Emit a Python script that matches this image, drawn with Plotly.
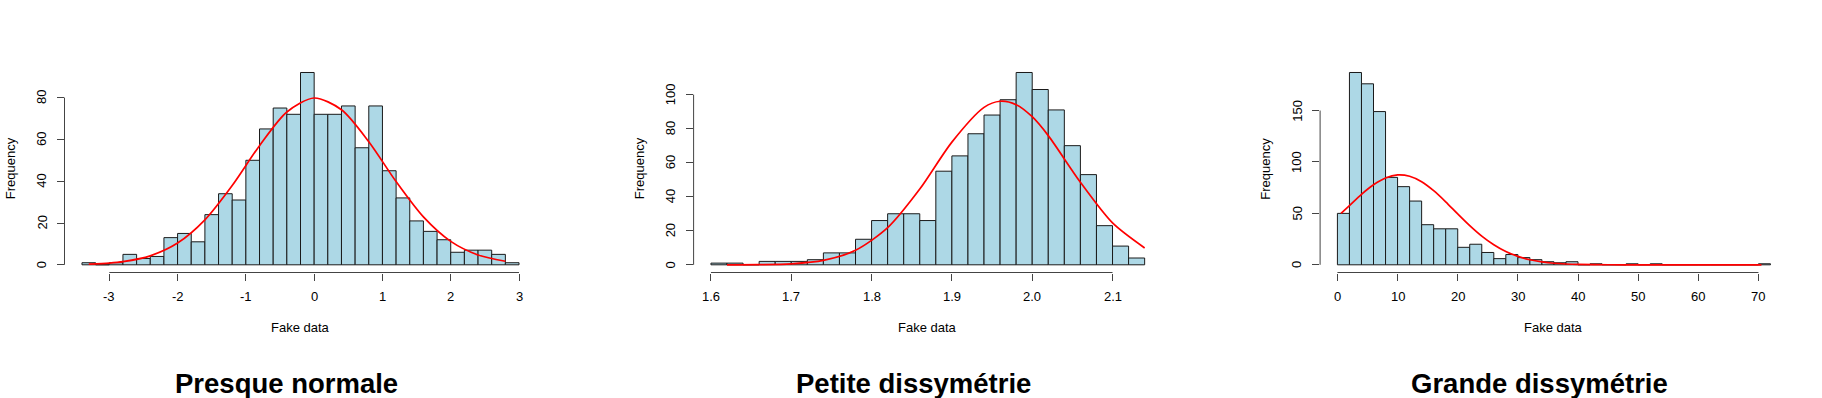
import plotly.graph_objects as go

W, H = 1822, 398

# ---------------- data ----------------
titles = ["Presque normale", "Petite dissymétrie", "Grande dissymétrie"]
x_label = "Fake data"
y_label = "Frequency"

p1_bin_start = -3.4
p1_bin_width = 0.2
p1_counts = [1, 0, 1, 5, 3, 4, 13, 15, 11, 24, 34, 31, 50, 65, 75, 72,
             92, 72, 72, 76, 56, 76, 45, 32, 21, 16, 12, 6, 7, 7, 5, 1]
p1_xticks = [-3, -2, -1, 0, 1, 2, 3]
p1_xticklabels = ["-3", "-2", "-1", "0", "1", "2", "3"]
p1_yticks = [0, 20, 40, 60, 80]
p1_yticklabels = ["0", "20", "40", "60", "80"]
p1_curve_x = [-3.3, -3.0, -2.8, -2.4, -2.0, -1.6, -1.2, -0.8, -0.4, 0.0,
              0.4, 0.8, 1.2, 1.6, 2.0, 2.4, 2.8]
p1_curve_y = [0.3, 0.8, 1.5, 4.3, 10.4, 21.5, 37.9, 57.0, 73.1, 79.8,
              74.2, 58.9, 39.8, 22.9, 11.2, 4.7, 1.7]

p2_bin_start = 1.60
p2_bin_width = 0.02
p2_counts = [1, 1, 0, 2, 2, 2, 3, 7, 7, 15, 26, 30, 30, 26, 55, 64, 77,
             88, 97, 113, 103, 91, 70, 53, 23, 11, 4]
p2_xticks = [1.6, 1.7, 1.8, 1.9, 2.0, 2.1]
p2_xticklabels = ["1.6", "1.7", "1.8", "1.9", "2.0", "2.1"]
p2_yticks = [0, 20, 40, 60, 80, 100]
p2_yticklabels = ["0", "20", "40", "60", "80", "100"]
p2_curve_x = [1.62, 1.66, 1.70, 1.74, 1.78, 1.82, 1.86, 1.90, 1.94, 1.96,
              1.98, 2.00, 2.02, 2.06, 2.10, 2.14]
p2_curve_y = [0.0, 0.1, 0.6, 2.6, 8.5, 21.8, 44.5, 72.1, 92.5, 96.1,
              94.1, 87.0, 75.9, 48.5, 24.6, 9.9]

p3_bin_start = 0
p3_bin_width = 2
p3_counts = [50, 187, 176, 149, 85, 76, 62, 39, 35, 35, 17, 20, 12, 6, 10,
             7, 5, 3, 2, 3, 0, 1, 0, 0, 1, 0, 1, 0, 0, 0, 0, 0, 0, 0, 0, 1]
p3_xticks = [0, 10, 20, 30, 40, 50, 60, 70]
p3_xticklabels = ["0", "10", "20", "30", "40", "50", "60", "70"]
p3_yticks = [0, 50, 100, 150]
p3_yticklabels = ["0", "50", "100", "150"]
p3_curve_x = [0.6, 2, 4, 6, 8, 10, 12, 14, 16, 18, 20, 22, 24, 26, 28, 30,
              32, 34, 36, 38, 40, 45, 50, 60, 70.5]
p3_curve_y = [50.0, 57.5, 68.5, 77.8, 84.4, 87.4, 86.1, 80.8, 72.1, 61.3,
              49.5, 38.1, 27.9, 19.5, 12.9, 8.2, 4.9, 2.8, 1.5, 0.8, 0.4,
              0.05, 0.0, 0.0, 0.0]

panels = [
    (p1_bin_start, p1_bin_width, p1_counts, p1_xticks, p1_xticklabels,
     p1_yticks, p1_yticklabels, p1_curve_x, p1_curve_y),
    (p2_bin_start, p2_bin_width, p2_counts, p2_xticks, p2_xticklabels,
     p2_yticks, p2_yticklabels, p2_curve_x, p2_curve_y),
    (p3_bin_start, p3_bin_width, p3_counts, p3_xticks, p3_xticklabels,
     p3_yticks, p3_yticklabels, p3_curve_x, p3_curve_y),
]

# ---------------- layout (pixels) ----------------
plot_left = [64.5, 693.6, 1320.1]
plot_right = [536.5, 1162.0, 1787.8]
plot_top, plot_bottom = 64.8, 272.5
FONT = "Liberation Sans, Arial, sans-serif"
small = 13
axis_col = "#444444"

fig = go.Figure()
layout = dict(
    width=W, height=H, margin=dict(l=0, r=0, t=0, b=0),
    paper_bgcolor="white", plot_bgcolor="white", showlegend=False,
    font=dict(family=FONT, size=small, color="black"),
)
annotations = []
shapes = []

for i, (b0, bw, counts, xt, xtl, yt, ytl, cx, cy) in enumerate(panels):
    n = i + 1
    xa = "x" if n == 1 else f"x{n}"
    ya = "y" if n == 1 else f"y{n}"
    xkey = "xaxis" if n == 1 else f"xaxis{n}"
    ykey = "yaxis" if n == 1 else f"yaxis{n}"

    nb = len(counts)
    centers = [b0 + bw * (k + 0.5) for k in range(nb)]
    lo, hi = b0, b0 + bw * nb
    pad = 0.04 * (hi - lo)
    M = max(counts)

    fig.add_trace(go.Bar(
        x=centers, y=counts, width=[bw] * nb, xaxis=xa, yaxis=ya,
        marker=dict(color="#ADD8E6", line=dict(color="#1a1a1a", width=1)),
        hoverinfo="skip",
    ))
    fig.add_trace(go.Scatter(
        x=cx, y=cy, mode="lines", xaxis=xa, yaxis=ya,
        line=dict(color="red", width=1.7, shape="spline", smoothing=0.8),
        hoverinfo="skip",
    ))

    layout[xkey] = dict(
        domain=[plot_left[i] / W, plot_right[i] / W],
        range=[lo - pad, hi + pad], anchor=ya,
        showgrid=False, zeroline=False, showline=False,
        tickmode="array", tickvals=xt, showticklabels=False,
        ticks="outside", ticklen=7, tickwidth=1, tickcolor=axis_col,
    )
    layout[ykey] = dict(
        domain=[(H - plot_bottom) / H, (H - plot_top) / H],
        range=[-0.04 * M, 1.04 * M], anchor=xa,
        showgrid=False, zeroline=False, showline=False,
        tickmode="array", tickvals=yt, showticklabels=False,
        ticks="outside", ticklen=7, tickwidth=1, tickcolor=axis_col,
    )

    # axis lines spanning first..last tick (R style)
    shapes.append(dict(type="line", xref=xa, yref=f"{ya} domain",
                       x0=xt[0], x1=xt[-1], y0=0, y1=0,
                       line=dict(color=axis_col, width=1)))
    shapes.append(dict(type="line", xref=f"{xa} domain", yref=ya,
                       x0=0, x1=0, y0=yt[0], y1=yt[-1],
                       line=dict(color=axis_col, width=1)))

    # x tick labels
    for v, t in zip(xt, xtl):
        annotations.append(dict(
            x=v, y=0, xref=xa, yref=f"{ya} domain", text=t, showarrow=False,
            xanchor="center", yanchor="middle", yshift=-(296.3 - plot_bottom),
            font=dict(size=small, family=FONT, color="black")))
    # y tick labels (rotated)
    for v, t in zip(yt, ytl):
        annotations.append(dict(
            x=0, y=v, xref=f"{xa} domain", yref=ya, text=t, showarrow=False,
            xanchor="center", yanchor="middle", xshift=-23, textangle=-90,
            font=dict(size=small, family=FONT, color="black")))
    # axis titles
    annotations.append(dict(
        x=0.5, y=0, xref=f"{xa} domain", yref=f"{ya} domain", text=x_label,
        showarrow=False, xanchor="center", yanchor="middle",
        yshift=-(327.7 - plot_bottom),
        font=dict(size=small, family=FONT, color="black")))
    annotations.append(dict(
        x=0, y=0.5, xref=f"{xa} domain", yref=f"{ya} domain", text=y_label,
        showarrow=False, xanchor="center", yanchor="middle", xshift=-54,
        textangle=-90, font=dict(size=small, family=FONT, color="black")))
    # panel title (below)
    cx_px = (plot_left[i] + plot_right[i]) / 2 - 14
    annotations.append(dict(
        x=cx_px / W, y=(H - 383.0) / H, xref="paper", yref="paper",
        text=f"<b>{titles[i]}</b>", showarrow=False,
        xanchor="center", yanchor="middle",
        font=dict(size=27.5, family=FONT, color="black")))

layout["annotations"] = annotations
layout["shapes"] = shapes
fig.update_layout(**layout)
fig.write_html(
    "out.html",
    config={"displayModeBar": False, "staticPlot": True},
    post_script="document.body.style.margin='0px';"
                "document.body.style.overflow='hidden';",
)
